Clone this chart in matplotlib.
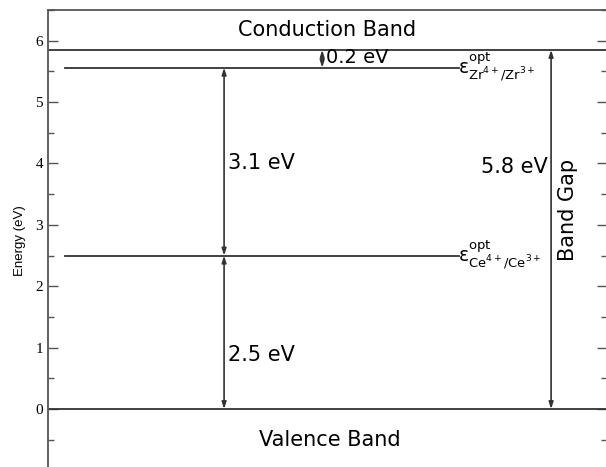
import matplotlib
matplotlib.use("Agg")
import matplotlib.pyplot as plt
from matplotlib.ticker import MultipleLocator

# Data (energies in eV)
valence_band = 0.0
conduction_band = 5.85
zr_level = 5.56
ce_level = 2.5
gap_labels = ["0.2 eV", "3.1 eV", "2.5 eV", "5.8 eV"]
band_labels = ["Conduction Band", "Valence Band", "Band Gap"]
yticks = [0, 1, 2, 3, 4, 5, 6]

plt.rcParams['mathtext.fontset'] = 'dejavusans'
col = '#333333'

fig = plt.figure(figsize=(6.06, 4.67), dpi=100)
ax = fig.add_axes([48/606, -0.0075, 559/606, 0.9787 + 0.0075])
ax.set_xlim(0, 1)
ax.set_ylim(-1.0, 6.5)

for s in ['left', 'top']:
    ax.spines[s].set_color('#555555')
    ax.spines[s].set_linewidth(1.3)
ax.spines['right'].set_visible(False)
ax.spines['bottom'].set_visible(False)

ax.set_xticks([])
ax.set_yticks(yticks)
ax.yaxis.set_minor_locator(MultipleLocator(0.5))
ax.tick_params(axis='y', which='both', direction='in', left=True, right=True,
               color='#555555', labelsize=11)
ax.tick_params(axis='y', which='major', length=7, width=1)
ax.tick_params(axis='y', which='minor', length=4, width=1)
for lab in ax.get_yticklabels():
    lab.set_family('Liberation Serif')
ax.set_ylabel('Energy (eV)', fontsize=9.5, family='Liberation Sans', labelpad=7)

lw = 1.3
ax.axhline(conduction_band, color=col, lw=lw)
ax.axhline(valence_band, color=col, lw=lw)
ax.plot([0.03, 0.735], [zr_level, zr_level], color=col, lw=lw)
ax.plot([0.03, 0.735], [ce_level, ce_level], color=col, lw=lw)

def arrow(x, y0, y1):
    ax.annotate('', xy=(x, y1), xytext=(x, y0),
                arrowprops=dict(arrowstyle='<|-|>,head_length=0.4,head_width=0.13',
                                color=col, lw=1.2, shrinkA=0, shrinkB=0))

arrow(0.315, ce_level, zr_level)
arrow(0.315, valence_band, ce_level)
arrow(0.90, valence_band, conduction_band)
arrow(0.4905, zr_level, conduction_band)

fs = 15
ax.text(0.499, 6.18, band_labels[0], ha='center', va='center', fontsize=fs)
ax.text(0.505, -0.5, band_labels[1], ha='center', va='center', fontsize=fs)
ax.text(0.93, 3.25, band_labels[2], ha='center', va='center', fontsize=fs, rotation=90)
ax.text(0.498, 5.72, gap_labels[0], ha='left', va='center', fontsize=14)
ax.text(0.322, 4.0, gap_labels[1], ha='left', va='center', fontsize=fs)
ax.text(0.322, 0.88, gap_labels[2], ha='left', va='center', fontsize=fs)
ax.text(0.894, 3.95, gap_labels[3], ha='right', va='center', fontsize=fs)

ax.text(0.733, zr_level + 0.02, r'$\mathrm{ε}^{\mathrm{opt}}_{\mathrm{Zr}^{4+}\mathrm{/Zr}^{3+}}$',
        ha='left', va='center', fontsize=13.5)
ax.text(0.733, ce_level + 0.02, r'$\mathrm{ε}^{\mathrm{opt}}_{\mathrm{Ce}^{4+}\mathrm{/Ce}^{3+}}$',
        ha='left', va='center', fontsize=13.5)

fig.savefig('out.png', dpi=100)
